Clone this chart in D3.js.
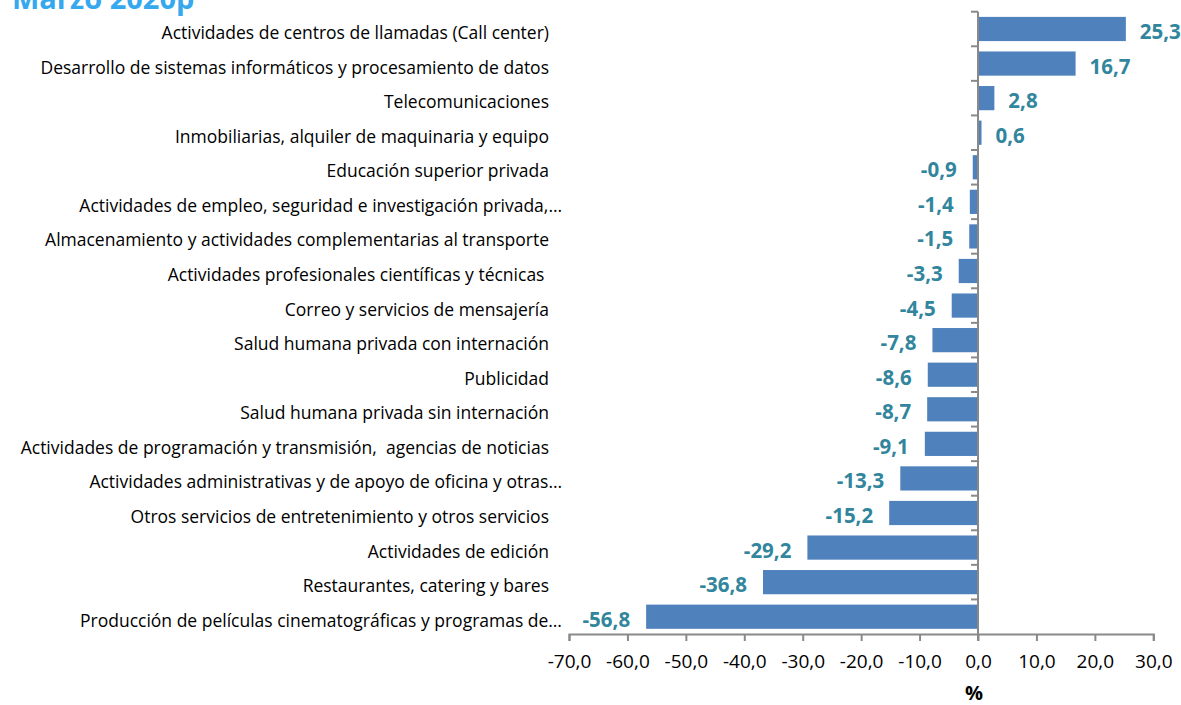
<!DOCTYPE html>
<html><head><meta charset="utf-8">
<script src="https://cdn.jsdelivr.net/npm/d3@7"></script>
<style>
html,body{margin:0;padding:0;background:#fff;}
svg{display:block;}
text{white-space:pre;}
</style></head>
<body>
<svg id="chart" width="1181" height="705"></svg>
<script>
const title = "Marzo 2020p";
const categories = [
  "Actividades de centros de llamadas (Call center)",
  "Desarrollo de sistemas informáticos y procesamiento de datos",
  "Telecomunicaciones",
  "Inmobiliarias, alquiler de maquinaria y equipo",
  "Educación superior privada",
  "Actividades de empleo, seguridad e investigación privada,…",
  "Almacenamiento y actividades complementarias al transporte",
  "Actividades profesionales científicas y técnicas ",
  "Correo y servicios de mensajería",
  "Salud humana privada con internación",
  "Publicidad",
  "Salud humana privada sin internación",
  "Actividades de programación y transmisión,  agencias de noticias",
  "Actividades administrativas y de apoyo de oficina y otras…",
  "Otros servicios de entretenimiento y otros servicios",
  "Actividades de edición",
  "Restaurantes, catering y bares",
  "Producción de películas cinematográficas y programas de…"
];
const values = [25.3, 16.7, 2.8, 0.6, -0.9, -1.4, -1.5, -3.3, -4.5, -7.8, -8.6, -8.7, -9.1, -13.3, -15.2, -29.2, -36.8, -56.8];
const xTicks = [-70, -60, -50, -40, -30, -20, -10, 0, 10, 20, 30];
const xTitle = "%";

const svg = d3.select("#chart");
const fmt = v => d3.format(".1f")(v).replace(".", ",").replace("\u2212", "-");

const x = d3.scaleLinear().domain([-70, 30]).range([569, 1153.3]);
const y = d3.scaleBand().domain(categories).range([11.7, 634]).paddingInner(0.3).paddingOuter(0.15);

// title (mostly cropped, as in the original)
svg.append("text").attr("x", 12).attr("y", 9)
  .attr("font-family", "'Open Sans', sans-serif").attr("font-weight", "bold")
  .attr("font-size", 29).attr("fill", "#35A8EE").text(title);

// bars
svg.append("g").selectAll("rect").data(values).join("rect")
  .attr("x", d => x(Math.min(0, d)))
  .attr("width", d => Math.abs(x(d) - x(0)))
  .attr("y", (d, i) => y(categories[i]))
  .attr("height", y.bandwidth())
  .attr("fill", "#4F81BD");

// x axis
const axisColor = "#898989";
const xAxis = svg.append("g").attr("transform", `translate(0,${634})`)
  .call(d3.axisBottom(x).tickValues(xTicks).tickSize(7).tickPadding(14).tickFormat(fmt));
xAxis.select(".domain").attr("stroke", axisColor).attr("stroke-width", 2);
xAxis.selectAll(".tick line").attr("stroke", axisColor).attr("stroke-width", 2);
xAxis.selectAll("text").attr("font-family", "'Open Sans', sans-serif").attr("font-size", 19).attr("fill", "#000");

// y axis at zero
svg.append("line").attr("x1", x(0)).attr("x2", x(0)).attr("y1", 11.7).attr("y2", 641)
  .attr("stroke", axisColor).attr("stroke-width", 2);
const boundaries = categories.map((c, i) => y(c) - y.step() * y.paddingInner() / 2);
boundaries[0] = 11.7;
svg.append("g").selectAll("line").data(boundaries).join("line")
  .attr("x1", x(0) - 7).attr("x2", x(0)).attr("y1", d => d).attr("y2", d => d)
  .attr("stroke", axisColor).attr("stroke-width", 2);

// category labels
svg.append("g").selectAll("text").data(categories).join("text")
  .attr("x", d => d.endsWith("…") ? 562 : 549)
  .attr("y", d => y(d) + y.bandwidth() / 2 + 3)
  .attr("dominant-baseline", "central")
  .attr("text-anchor", "end")
  .attr("font-family", "'Open Sans', sans-serif").attr("font-size", 17.5).attr("fill", "#000")
  .text(d => d);

// value labels
svg.append("g").selectAll("text").data(values).join("text")
  .attr("x", d => d >= 0 ? x(d) + 14 : x(d) - 16)
  .attr("y", (d, i) => y(categories[i]) + y.bandwidth() / 2 + 2)
  .attr("dominant-baseline", "central")
  .attr("text-anchor", d => d >= 0 ? "start" : "end")
  .attr("font-family", "'Open Sans', sans-serif").attr("font-weight", "bold")
  .attr("font-size", 20.5).attr("fill", "#31859C")
  .text(fmt);

// x title
svg.append("text").attr("x", x(0) - 4).attr("y", 700).attr("text-anchor", "middle")
  .attr("font-family", "'Open Sans', sans-serif").attr("font-weight", "bold")
  .attr("font-size", 20).attr("fill", "#000").text(xTitle);
</script>
</body></html>
